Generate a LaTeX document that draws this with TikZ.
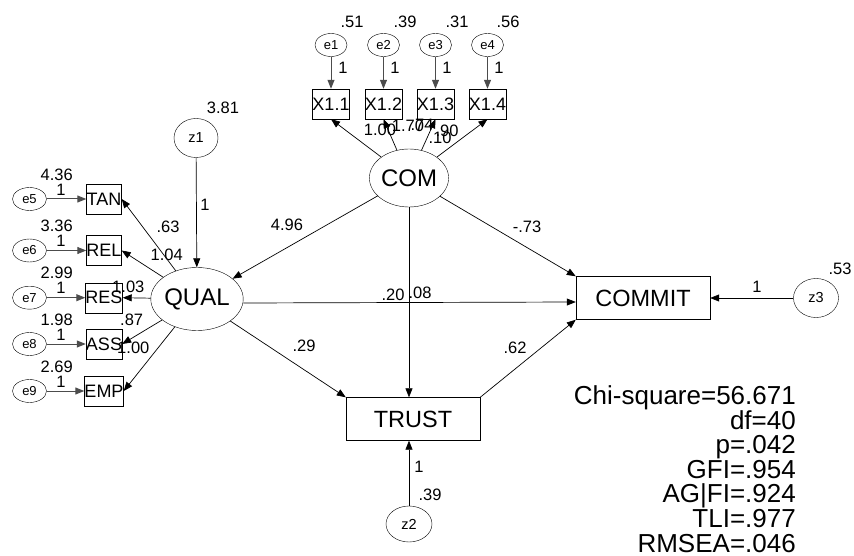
\documentclass[tikz,border=0pt]{standalone}
\usepackage{fontspec}
\setmainfont{Liberation Sans}
\usetikzlibrary{arrows.meta}
\usetikzlibrary{shapes.geometric}

\begin{document}
\begin{tikzpicture}[x=1pt,y=-1pt,
  err/.style={ellipse,draw,inner sep=0pt,minimum width=32pt,minimum height=23pt,font=\fontsize{13}{13}\selectfont},
  dist/.style={ellipse,draw,inner sep=0pt,minimum width=44pt,minimum height=39pt,font=\fontsize{14.5}{14.5}\selectfont},
  latent/.style={ellipse,draw,inner sep=0pt,font=\fontsize{24}{24}\selectfont},
  obs/.style={rectangle,draw,inner sep=0pt,minimum width=35pt,minimum height=30pt,font=\fontsize{18}{18}\selectfont},
  endo/.style={rectangle,draw,inner sep=0pt,minimum width=134pt,minimum height=43pt,font=\fontsize{23.5}{23.5}\selectfont},
  est/.style={inner sep=0pt,font=\fontsize{16.5}{16.5}\selectfont},
  reg/.style={-{Triangle[length=9pt,width=7pt]},line width=0.7pt},
  fix/.style={-{Triangle[length=9pt,width=7pt]},line width=1pt,draw=black!70},
]
\useasboundingbox (0,0) rectangle (854,556);

% COM block
\node[latent,minimum width=67pt,minimum height=58pt] (COM) at (409,178) {COM};
\node[obs] (X11) at (331,104) {X1.1};
\node[obs] (X12) at (383.5,104) {X1.2};
\node[obs] (X13) at (435.5,104) {X1.3};
\node[obs] (X14) at (487.5,104) {X1.4};
\node[err] (e1) at (331,45) {e1};
\node[err] (e2) at (383.5,45) {e2};
\node[err] (e3) at (435.5,45) {e3};
\node[err] (e4) at (487.5,45) {e4};
\draw[fix] (e1) -- (X11);
\draw[fix] (e2) -- (X12);
\draw[fix] (e3) -- (X13);
\draw[fix] (e4) -- (X14);
\draw[reg] (COM) -- (X11.south);
\draw[reg] (COM) -- (X12.south);
\draw[reg] (COM) -- (X13.south);
\draw[reg] (COM) -- (X14.south);
\node[est] (v1) at (352,22) {.51};
\node[est] (v2) at (405,22) {.39};
\node[est] (v3) at (457,22) {.31};
\node[est] (v4) at (508,22) {.56};
\node[est] (f1) at (343,68) {1};
\node[est] (f2) at (395,68) {1};
\node[est] (f3) at (447,68) {1};
\node[est] (f4) at (499,68) {1};
\node[est] (w1) at (380,130) {1.00};
\node[est] (w2) at (408,126) {1.70};
\node[est] (w3) at (422,125) {.74};
\node[est] (w4) at (447,131) {.90};
\node[est] (w5) at (440,138) {.10};

% QUAL block
\node[latent,minimum width=73pt,minimum height=63pt] (QUAL) at (197,299) {QUAL};
\node[dist] (z1) at (196,138) {z1};
\node[obs] (TAN) at (104,199) {TAN};
\node[obs] (REL) at (104,250.5) {REL};
\node[obs] (RES) at (104,297.7) {RES};
\node[obs] (ASS) at (104,344) {ASS};
\node[obs] (EMP) at (104,391) {EMP};
\node[err,minimum width=34pt] (e5) at (29.5,199) {e5};
\node[err,minimum width=34pt] (e6) at (29.5,250.5) {e6};
\node[err,minimum width=34pt] (e7) at (29.5,297.7) {e7};
\node[err,minimum width=34pt] (e8) at (29.5,344) {e8};
\node[err,minimum width=34pt] (e9) at (29.5,391) {e9};
\draw[fix] (e5) -- (TAN);
\draw[fix] (e6) -- (REL);
\draw[fix] (e7) -- (RES);
\draw[fix] (e8) -- (ASS);
\draw[fix] (e9) -- (EMP);
\draw[reg] (QUAL) -- (TAN.east);
\draw[reg] (QUAL) -- (REL.east);
\draw[reg] (QUAL) -- (RES.east);
\draw[reg] (QUAL) -- (ASS.east);
\draw[reg] (QUAL) -- (EMP.east);
\draw[reg] (z1) -- (QUAL);
\node[est] (v5) at (56.7,175) {4.36};
\node[est] (v6) at (56.7,226) {3.36};
\node[est] (v7) at (56.7,273) {2.99};
\node[est] (v8) at (56.7,320) {1.98};
\node[est] (v9) at (56.7,367) {2.69};
\node[est] (f5) at (61,190) {1};
\node[est] (f6) at (61,241) {1};
\node[est] (f7) at (61,288) {1};
\node[est] (f8) at (61,334.5) {1};
\node[est] (f9) at (61,381.5) {1};
\node[est] (w6) at (168,227) {.63};
\node[est] (w7) at (166.7,255) {1.04};
\node[est] (w8) at (128.3,287.3) {1.03};
\node[est] (w9) at (131.7,320) {.87};
\node[est] (w10) at (133.3,348.3) {1.00};
\node[est] (vz1) at (223,108) {3.81};
\node[est] (fz1) at (205,205) {1};

% structural part
\node[endo] (COMMIT) at (643,298) {COMMIT};
\node[endo] (TRUST) at (413,419) {TRUST};
\node[dist,minimum width=45pt] (z3) at (816,298) {z3};
\node[dist,minimum width=46pt,minimum height=36pt] (z2) at (409,524) {z2};
\draw[reg] (COM) -- (QUAL);
\draw[reg] (COM) -- (COMMIT.north west);
\draw[reg] (COM) -- (COM |- TRUST.north);
\draw[reg] ([yshift=-4pt]QUAL.east) -- ([yshift=-4pt]COMMIT.west);
\draw[reg] (QUAL) -- (TRUST.north west);
\draw[reg] (TRUST.north east) -- (COMMIT.south west);
\draw[reg] (z3) -- (COMMIT);
\draw[reg] (z2) -- (z2 |- TRUST.south);
\node[est] (w11) at (287,225) {4.96};
\node[est] (w12) at (527,227) {-.73};
\node[est] (w13) at (393,295) {.20};
\node[est] (w14) at (420,293) {.08};
\node[est] (w15) at (304,346) {.29};
\node[est] (w16) at (515,348) {.62};
\node[est] (vz3) at (840,269) {.53};
\node[est] (fz3) at (757,287) {1};
\node[est] (vz2) at (430,495) {.39};
\node[est] (fz2) at (419,467) {1};

% fit indices
\node[align=right,anchor=east,inner sep=0pt,font=\fontsize{26}{24.6}\selectfont] (fit) at (796,469)
  {Chi-square=56.671\\df=40\\p=.042\\GFI=.954\\AG|FI=.924\\TLI=.977\\RMSEA=.046};

\end{tikzpicture}
\end{document}
